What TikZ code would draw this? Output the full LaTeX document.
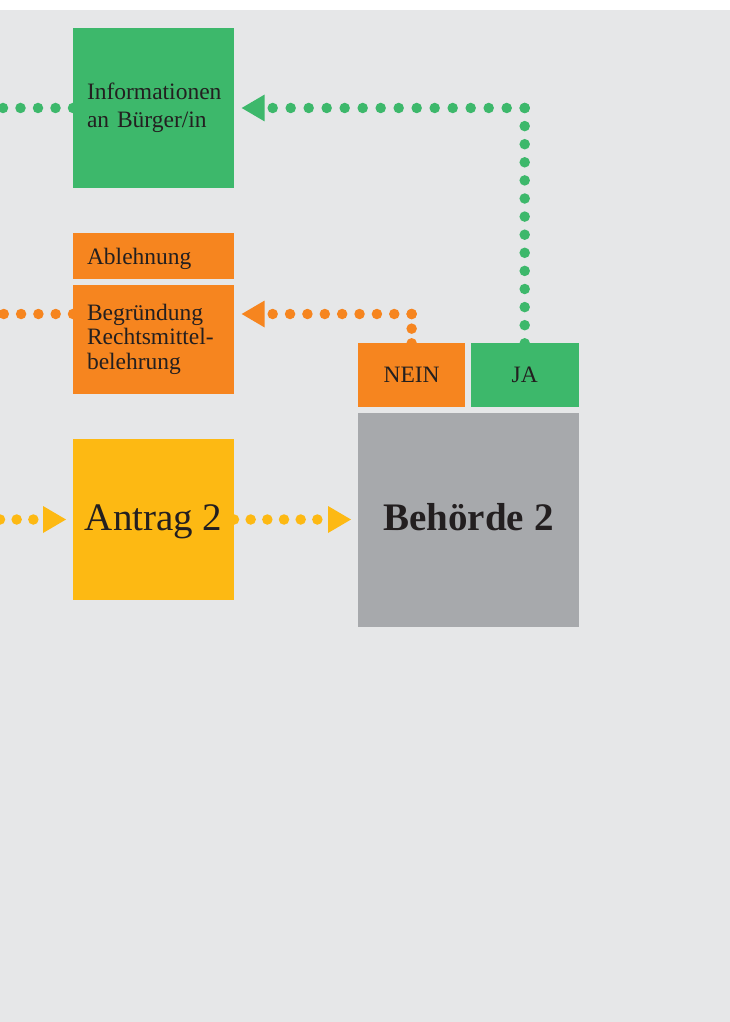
\documentclass[tikz,border=0pt]{standalone}
\usepackage{fontspec}
\setmainfont{Liberation Serif}
\usetikzlibrary{arrows.meta}
\definecolor{bgc}{HTML}{E6E7E8}
\definecolor{grn}{HTML}{3DB86B}
\definecolor{org}{HTML}{F6851F}
\definecolor{ylw}{HTML}{FDB913}
\definecolor{gry}{HTML}{A7A9AC}
\definecolor{txt}{HTML}{231F20}
\pgfdeclarelayer{bg}
\pgfdeclarelayer{lines}
\pgfsetlayers{bg,lines,main}
\newcommand\indt{\hspace*{14pt}}
\begin{document}
\begin{tikzpicture}[x=1pt,y=1pt,
  box/.style={inner sep=0pt, outer sep=0pt, text=txt, draw=none},
  tbox/.style={box, align=left, text width=161pt, minimum width=161pt},
  gfont/.style={font=\fontsize{23.5}{28}\selectfont},
  ofont/.style={font=\fontsize{23.5}{24.5}\selectfont},
  dots/.style={line width=10.5pt, line cap=round, dash pattern=on 0pt off #1},
  arrowtip/.style={-{Triangle[length=23pt,width=27pt,line width=0pt]}}
]
\useasboundingbox (0,0) rectangle (730,-1022);
\begin{pgfonlayer}{bg}
  \fill[white] (0,0) rectangle (730,-1022);
  \fill[bgc] (0,-10) rectangle (730,-1022);
\end{pgfonlayer}

% boxes
\node[tbox, gfont, fill=grn, minimum height=160pt] (info) at (153.5,-108)
  {\indt Informationen\\\indt an Bürger/in};
\node[box, ofont, fill=org, minimum width=161pt, minimum height=45.5pt,
  text width=147pt, inner xsep=0pt, align=left, xshift=0pt,
  text height=16.5pt, text depth=0pt] (abl) at (153.5,-255.75)
  {\hspace*{-7pt}\indt Ablehnung};
\node[tbox, ofont, fill=org, minimum height=109.3pt] (begr) at (153.5,-339.35)
  {\indt Begründung\\\indt Rechtsmittel-\\\indt belehrung};
\node[box, fill=ylw, minimum width=160.7pt, minimum height=161pt,
  text height=21pt, text depth=0pt,
  font=\fontsize{39}{44}\selectfont] (antrag) at (153.65,-519.5) {Antrag 2};
\node[box, fill=org, minimum width=106.7pt, minimum height=63.4pt,
  text height=15.4pt, text depth=0pt,
  font=\fontsize{23.5}{28}\selectfont] (nein) at (411.65,-375) {NEIN};
\node[box, fill=grn, minimum width=108pt, minimum height=63.4pt,
  text height=15.4pt, text depth=0pt,
  font=\fontsize{23.5}{28}\selectfont] (ja) at (524.7,-375) {JA};
\node[box, fill=gry, minimum width=220.4pt, minimum height=214pt,
  text height=20.6pt, text depth=0pt,
  font=\fontsize{39}{44}\selectfont\bfseries] (beh) at (468.5,-519.7) {Behörde 2};

% connectors
\coordinate (cJ) at (ja.north |- info.east);
\coordinate (gL) at (0,-108);
\coordinate (cN) at (411.65,-314);
\coordinate (oL) at (0,-314);
\coordinate (yL) at (0,-519.5);
\begin{pgfonlayer}{lines}
  \draw[grn, dots=18.1pt] (ja.north) -- (cJ);
  \draw[grn, dots=18pt, arrowtip, shorten >=7.7pt] (cJ) -- (info.east);
  \draw[grn, dots=17.5pt] (info.west) -- (gL);
  \draw[org, dots=14.65pt] (nein.north) -- (cN);
  \draw[org, dots=17.37pt, arrowtip, shorten >=7.7pt] (cN) -- (begr.east |- cN);
  \draw[org, dots=17.3pt] (begr.west |- cN) -- (oL);
  \draw[ylw, dots=16.67pt, arrowtip, shorten >=7.3pt] (yL) -- (antrag.west);
  \draw[ylw, dots=16.67pt, arrowtip, shorten >=7.3pt] (antrag.east) -- (beh.west |- antrag.east);
\end{pgfonlayer}
\end{tikzpicture}
\end{document}
